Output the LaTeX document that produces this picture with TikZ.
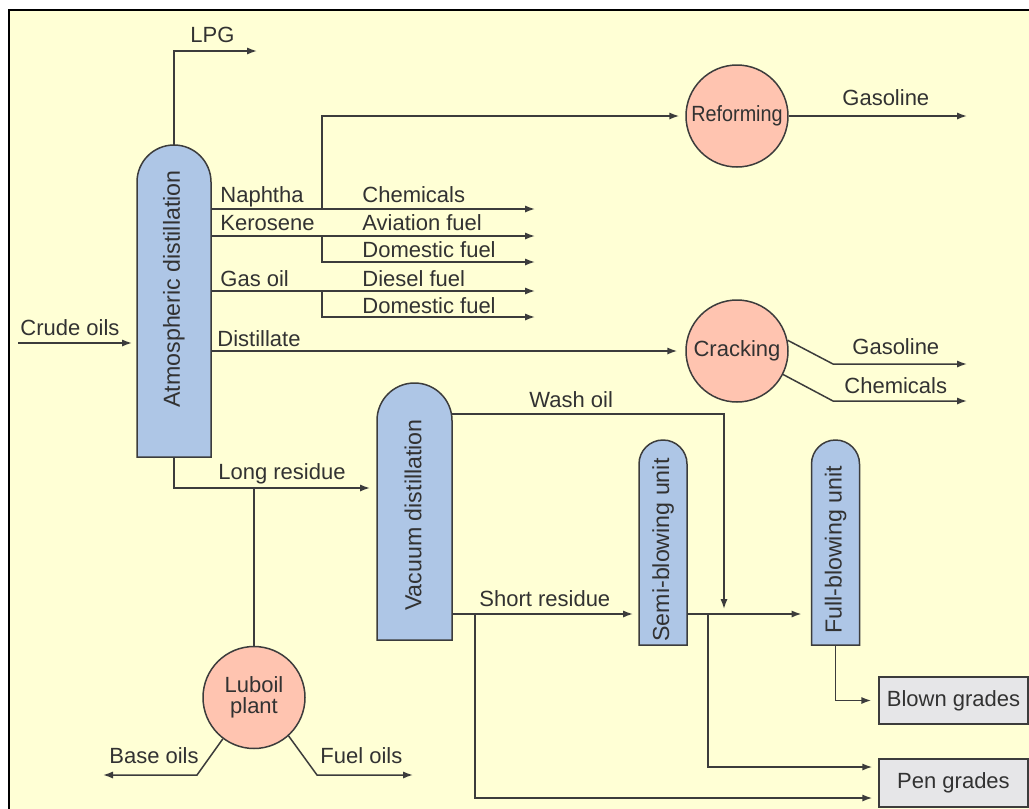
\documentclass[tikz,border=0pt]{standalone}
\usepackage{fontspec}
\setmainfont{Liberation Sans}
\usetikzlibrary{arrows.meta}
\definecolor{bgyellow}{RGB}{255,255,213}
\definecolor{linec}{RGB}{60,60,60}
\definecolor{txtc}{RGB}{50,50,50}
\definecolor{colblue}{RGB}{174,198,230}
\definecolor{unitpink}{RGB}{255,196,176}
\definecolor{boxgray}{RGB}{230,230,232}
\begin{document}
\begin{tikzpicture}[x=0.5pt,y=-0.5pt,
  plain/.style={draw=linec,line width=0.75pt},
  flow/.style={plain,-{Latex[length=5pt,width=3.6pt]}},
  flowgap/.style={flow,shorten >=3pt},
  lbl/.style={text=txtc,font=\fontsize{11}{13}\selectfont,inner sep=0pt,anchor=base west},
  coltext/.style={text=txtc,font=\fontsize{11.6}{13}\selectfont,inner sep=0pt,rotate=90},
  colnode/.style={inner sep=0pt,outer sep=0pt,minimum width=#1},
  colshape/.style={draw=linec,line width=0.75pt,fill=colblue},
  unit/.style={circle,draw=linec,line width=0.75pt,fill=unitpink,minimum size=51pt,inner sep=0pt,text=txtc,font=\fontsize{11}{13}\selectfont},
  gradebox/.style={draw=linec,line width=0.75pt,fill=boxgray,minimum width=74.5pt,inner sep=0pt,text=txtc,font=\fontsize{11}{13}\selectfont}]
\useasboundingbox (0,0) rectangle (1029,809);
\fill[white] (0,0) rectangle (1029,809);
\fill[bgyellow] (9,10) rectangle (1029,809);
\draw[black,line width=1pt] (9,809) -- (9,10) -- (1029,10);

% columns
\node[colnode=37pt,minimum height=156pt] (ad) at (174,301) {};
\path[colshape] (ad.south west) -- ([yshift=-18.5pt]ad.north west) arc[start angle=180,end angle=0,radius=18.5pt] -- (ad.south east) -- cycle;
\node[coltext] (adt) at (174,289) {Atmospheric distillation};

\node[colnode=37.5pt,minimum height=128.5pt] (vd) at (414.5,511.5) {};
\path[colshape] (vd.south west) -- ([yshift=-18.75pt]vd.north west) arc[start angle=180,end angle=0,radius=18.75pt] -- (vd.south east) -- cycle;
\node[coltext] (vdt) at (413,515) {Vacuum distillation};

\node[colnode=24pt,minimum height=102.5pt] (sb) at (663,542.5) {};
\path[colshape] (sb.south west) -- ([yshift=-12pt]sb.north west) arc[start angle=180,end angle=0,radius=12pt] -- (sb.south east) -- cycle;
\node[coltext] (sbt) at (663,550) {Semi-blowing unit};

\node[colnode=24pt,minimum height=102.5pt] (fb) at (835.5,542.5) {};
\path[colshape] (fb.south west) -- ([yshift=-12pt]fb.north west) arc[start angle=180,end angle=0,radius=12pt] -- (fb.south east) -- cycle;
\node[coltext] (fbt) at (835.5,550) {Full-blowing unit};

% units
\node[unit] (ref) at (737,116) {\scalebox{0.9}[1]{Reforming}};
\node[unit] (crk) at (737,351) {Cracking};
\node[unit,align=center,font=\fontsize{11}{10.5}\selectfont] (lub) at (254,697.5) {Luboil\\plant};

% grade boxes
\node[gradebox,minimum height=23.5pt] (blown) at (953.5,700.5) {Blown grades};
\node[gradebox,minimum height=24pt] (pen) at (953.5,783) {Pen grades};

% coordinates for free ends
\coordinate (lpgend) at (257,51);
\coordinate (crudestart) at (18,343);
\coordinate (e1) at (535,209);
\coordinate (e2) at (535,236);
\coordinate (e3) at (535,262);
\coordinate (e4) at (535,291);
\coordinate (e5) at (535,317);
\coordinate (refgas) at (967,116);
\coordinate (crkgas) at (967,364);
\coordinate (crkchem) at (967,401);
\coordinate (baseend) at (103,775);
\coordinate (fuelend) at (413,775);
\coordinate (washdrop) at (724,609);

% connectors
\draw[flow] (ad.north) |- (lpgend);
\draw[flowgap,shorten >=2.5pt] (crudestart) -- (crudestart -| ad.west);
\draw[flow] (ad.east |- e1) -- (e1);
\draw[flow] (ad.east |- e2) -- (e2);
\draw[flow] (ad.east |- e4) -- (e4);
\draw[flowgap] (322,209) |- (ref.west);
\draw[flow] (322,236) |- (e3);
\draw[flow] (322,291) |- (e5);
\draw[flow] (ref.east) -- (refgas);
\draw[flowgap,shorten >=4pt] (ad.east |- crk.west) -- (crk.west);
\draw[flow] (crk.12) -- (833,364) -- (crkgas);
\draw[flow] (crk.-27) -- (833,401) -- (crkchem);
\draw[flowgap,shorten >=3.5pt] (ad.south) |- (vd.west |- 0,488);
\draw[plain] (254,488) -- (lub.north);
\draw[flow] (lub.233) -- (197,775) -- (baseend);
\draw[flow] (lub.312) -- (317,775) -- (fuelend);
\draw[flow] (vd.east |- 0,414) -| (washdrop);
\draw[flowgap] (vd.east |- 0,614) -- (sb.west |- 0,614);
\draw[flowgap] (475,614) |- (pen.west |- 0,798);
\draw[flowgap,shorten >=5pt] (sb.east |- 0,614) -- (fb.west |- 0,614);
\draw[flowgap] (708,614) |- (pen.west |- 0,767);
\draw[flowgap,shorten >=3.5pt] (fb.south) |- (blown.west);

% labels
\node[lbl] (tlpg) at (190,42) {LPG};
\node[lbl] (tnap) at (220,202) {Naphtha};
\node[lbl] (tker) at (220,230) {Kerosene};
\node[lbl] (tgas) at (220,286) {Gas oil};
\node[lbl] (tdis) at (217,346) {Distillate};
\node[lbl] (tchem) at (362,202) {Chemicals};
\node[lbl] (tavi) at (362,230) {Aviation fuel};
\node[lbl] (tdom1) at (362,257) {Domestic fuel};
\node[lbl] (tdie) at (362,286) {Diesel fuel};
\node[lbl] (tdom2) at (362,313) {Domestic fuel};
\node[lbl] (tgasr) at (842,105) {Gasoline};
\node[lbl] (tgasc) at (852,354) {Gasoline};
\node[lbl] (tchemc) at (844,393) {Chemicals};
\node[lbl] (tcrude) at (20,335) {Crude oils};
\node[lbl] (tlong) at (218,479) {Long residue};
\node[lbl] (twash) at (529,407) {Wash oil};
\node[lbl] (tshort) at (479,606) {Short residue};
\node[lbl] (tbase) at (109,763) {Base oils};
\node[lbl] (tfuel) at (320,763) {Fuel oils};
\end{tikzpicture}
\end{document}
